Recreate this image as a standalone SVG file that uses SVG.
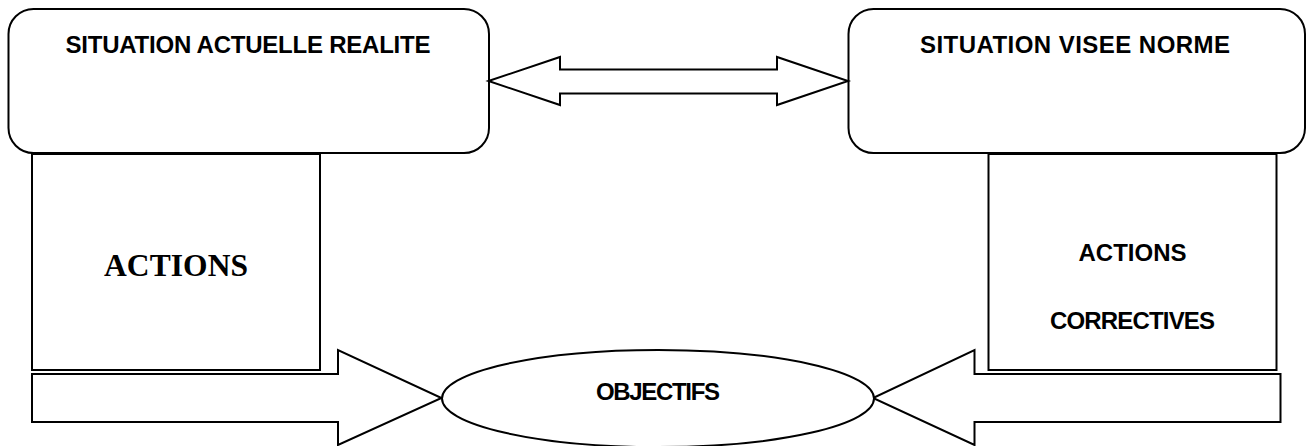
<svg xmlns="http://www.w3.org/2000/svg" width="1307" height="446" viewBox="0 0 1307 446">
<style>
.shape{fill:#fff;stroke:#000;stroke-width:2}
.lbl{font-family:"Liberation Sans",Arial,sans-serif;font-weight:bold;font-size:24px;fill:#000;text-anchor:middle}
.serif{font-family:"Liberation Serif","Times New Roman",serif;font-weight:bold;font-size:31.5px;fill:#000;text-anchor:middle}
</style>
<rect width="1307" height="446" fill="#fff"/>
<g id="actions">
<rect class="shape" x="32" y="154" width="288" height="216"/>
<text class="serif" x="176" y="276" textLength="144">ACTIONS</text>
</g>
<g id="actions-correctives">
<rect class="shape" x="988.5" y="154" width="288" height="216"/>
<text class="lbl" x="1132.5" y="261" textLength="108">ACTIONS</text>
<text class="lbl" x="1132.5" y="329" textLength="165">CORRECTIVES</text>
</g>
<g id="situation-actuelle">
<rect class="shape" x="8.5" y="9" width="480.5" height="144" rx="25" ry="25"/>
<text class="lbl" x="248" y="53" textLength="365">SITUATION ACTUELLE REALITE</text>
</g>
<g id="situation-visee">
<rect class="shape" x="848.5" y="9" width="456.5" height="144" rx="25" ry="25"/>
<text class="lbl" x="1075" y="53" textLength="310">SITUATION VISEE NORME</text>
</g>
<g id="connectors">
<polygon class="shape" points="488.5,81 560,57 560,69.5 777,69.5 777,57 848,81 777,105 777,93.5 560,93.5 560,105"/>
<polygon class="shape" points="32,374 338,374 338,350 441.5,398 338,445 338,422 32,422"/>
<polygon class="shape" points="1280.5,374 974.5,374 974.5,350 873,398 974.5,445 974.5,422 1280.5,422"/>
</g>
<g id="objectifs">
<ellipse class="shape" cx="658" cy="398.5" rx="216" ry="48.5"/>
<text class="lbl" x="658" y="400" textLength="124">OBJECTIFS</text>
</g>
</svg>
